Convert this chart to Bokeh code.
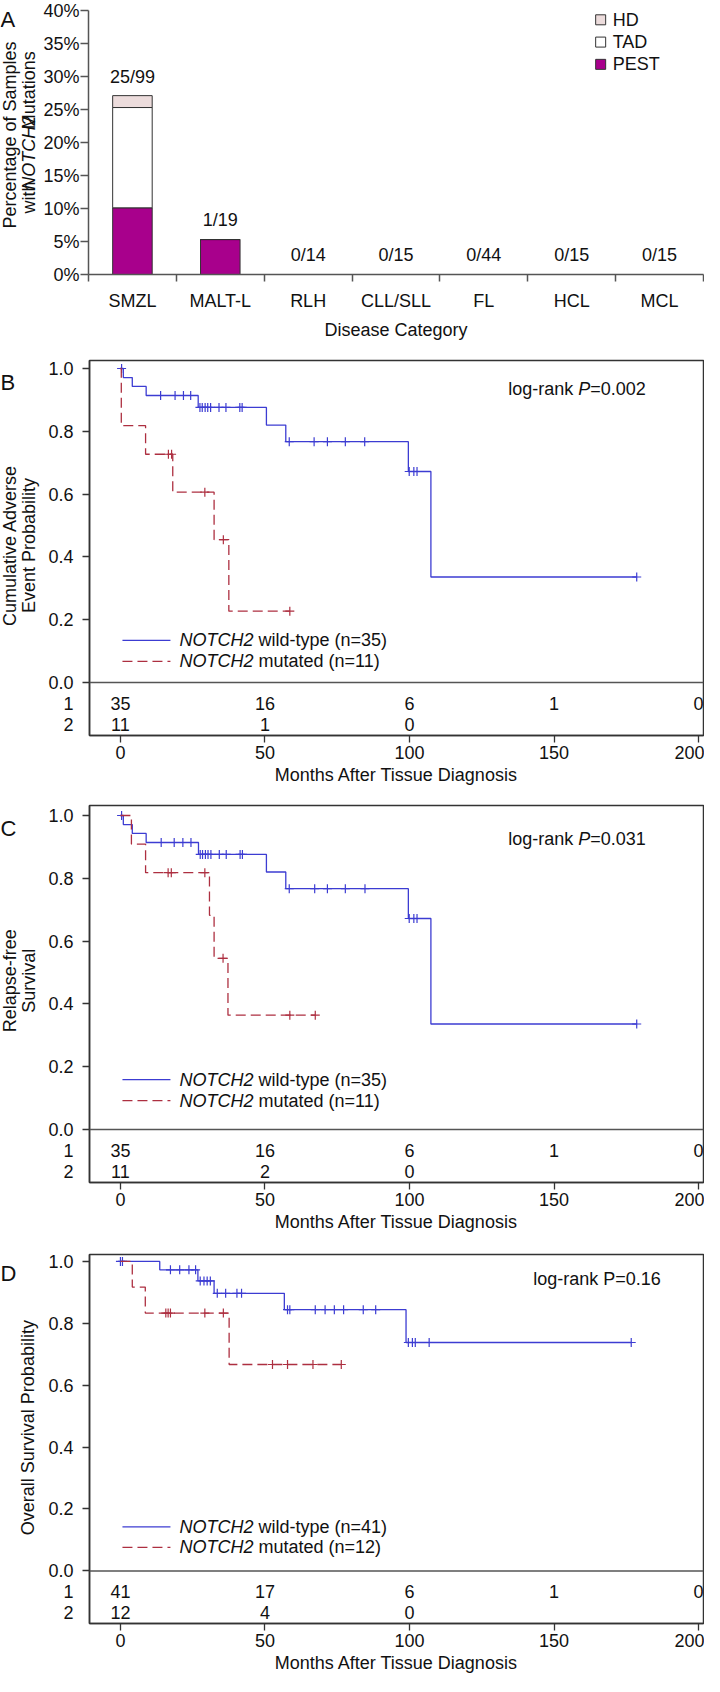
import math
from bokeh.plotting import figure
from bokeh.models import (Range1d, FixedTicker, PrintfTickFormatter, Label,
                          Span, ColumnDataSource)
from bokeh.layouts import column, row
from bokeh.embed import file_html
from bokeh.resources import INLINE
from bokeh.core.properties import value

FONT = "Liberation Sans"
FS = "18px"
W = 704

# ---------------- Panel A data ----------------
categories = ["SMZL", "MALT-L", "RLH", "CLL/SLL", "FL", "HCL", "MCL"]
pest_pct = [10.1, 5.3, 0, 0, 0, 0, 0]
tad_pct = [15.2, 0, 0, 0, 0, 0, 0]
hd_pct = [1.8, 0, 0, 0, 0, 0, 0]
mutated_counts = ["25/99", "1/19", "0/14", "0/15", "0/44", "0/15", "0/15"]
pct_ticks = [0, 5, 10, 15, 20, 25, 30, 35, 40]
domain_names = ["HD", "TAD", "PEST"]
domain_colors = ["#ecdcdc", "#ffffff", "#a8008c"]

# ---------------- Kaplan-Meier data ----------------
month_ticks = [0, 50, 100, 150, 200]
risk_months = [0, 50, 100, 150, 200]

# B: cumulative adverse event probability
b_wt_times = [0, 1.0, 4.1, 8.9, 26.9, 50.5, 57.2, 99.6, 107.4]
b_wt_surv = [1.0, 0.971, 0.943, 0.914, 0.876, 0.820, 0.767, 0.672, 0.336]
b_wt_last = 178.6
b_wt_censor = [0.4, 13.9, 18.9, 21.8, 24.3, 27.5, 28.3, 29.3, 30.2, 31.2, 34.1,
               36.5, 41.3, 42.1, 58.4, 67.0, 71.6, 77.8, 84.5, 99.9, 101.5,
               102.6, 178.6]
b_mut_times = [0, 0.3, 8.7, 18.1, 32.4, 37.5]
b_mut_surv = [1.0, 0.818, 0.727, 0.606, 0.455, 0.227]
b_mut_last = 58.6
b_mut_censor = [16.6, 17.7, 29.2, 35.6, 58.6]
b_risk_wt = [35, 16, 6, 1, 0]
b_risk_mut = [11, 1, 0]

# C: relapse-free survival
c_wt_times = [0, 1.0, 4.1, 8.9, 27.0, 50.5, 57.2, 99.6, 107.4]
c_wt_surv = [1.0, 0.971, 0.943, 0.914, 0.876, 0.820, 0.767, 0.672, 0.336]
c_wt_last = 178.6
c_wt_censor = [0.4, 14.1, 18.6, 21.6, 24.4, 27.6, 28.4, 29.4, 30.3, 31.3, 34.2,
               36.6, 41.4, 42.2, 58.4, 67.2, 71.6, 77.8, 84.6, 99.9, 101.5,
               102.6, 178.6]
c_mut_times = [0, 3.8, 8.7, 30.8, 32.4, 37.2]
c_mut_surv = [1.0, 0.909, 0.818, 0.682, 0.545, 0.364]
c_mut_last = 67.4
c_mut_censor = [16.5, 17.6, 29.2, 35.5, 58.6, 67.4]
c_risk_wt = [35, 16, 6, 1, 0]
c_risk_mut = [11, 2, 0]

# D: overall survival
d_wt_times = [0, 13.6, 26.8, 32.4, 56.7, 98.8]
d_wt_surv = [1.0, 0.973, 0.937, 0.897, 0.844, 0.738]
d_wt_last = 176.7
d_wt_censor = [0, 0.7, 17.3, 20.5, 23.7, 26.0, 27.6, 28.9, 30.0, 31.1, 33.5,
               36.4, 40.3, 41.9, 57.8, 58.6, 67.4, 70.8, 74.0, 77.2, 84.0,
               88.3, 99.6, 101.0, 102.0, 106.8, 176.7]
d_mut_times = [0, 4.1, 8.6, 37.6]
d_mut_surv = [1.0, 0.917, 0.833, 0.667]
d_mut_last = 76.4
d_mut_censor = [15.7, 16.5, 17.3, 29.2, 35.6, 52.6, 57.8, 66.6, 76.4]
d_risk_wt = [41, 17, 6, 1, 0]
d_risk_mut = [12, 4, 0]

BLUE = "#3c3cd2"
RED = "#ad2f40"
AX = "#333333"
TXT = "#111111"


def lbl(p, **kw):
    base = dict(text_font=FONT, text_font_size=FS, text_color=TXT,
                text_baseline="middle")
    base.update(kw)
    p.add_layout(Label(**base))


def side_figure(sw, height, btop, bbot, ylo, yhi):
    """Narrow figure left of a panel that carries its rotated axis title."""
    ppu = (height - btop - bbot) / (yhi - ylo)
    s = figure(width=sw, height=height, x_range=Range1d(0, sw),
               y_range=Range1d(ylo - bbot / ppu, yhi + btop / ppu),
               min_border=0, x_axis_type=None, y_axis_type=None,
               output_backend="svg", toolbar_location=None)
    s.outline_line_color = None
    s.xgrid.visible = False
    s.ygrid.visible = False
    return s, ppu


# ======================= Panel A =======================
A_SW = 40
A_BL, A_BT, A_BB, A_H = 47, 10, 57, 342
AW = W - A_SW
a_ppu = (A_H - A_BT - A_BB) / 40.0          # px per percent
a_ppx = (AW - A_BL - 1) / len(categories)   # px per category

xpos = [i + 0.5 for i in range(len(categories))]
totals = [a + b + c for a, b, c in zip(pest_pct, tad_pct, hd_pct)]
srcA = ColumnDataSource(dict(x=xpos, pest=pest_pct, tad=tad_pct, hd=hd_pct))

pA = figure(width=AW, height=A_H, x_range=Range1d(0, len(categories)),
            y_range=Range1d(0, 40), min_border_left=A_BL, min_border_right=1,
            min_border_top=A_BT, min_border_bottom=A_BB,
            output_backend="svg", toolbar_location=None)
pA.outline_line_color = None
pA.xgrid.visible = False
pA.ygrid.visible = False
bars = pA.vbar_stack(["pest", "tad", "hd"], x="x", width=0.45, source=srcA,
                     fill_color=[domain_colors[2], domain_colors[1],
                                 domain_colors[0]],
                     line_color="#333333", line_width=1)
pA.text(x=xpos, y=[t + 2.9 for t in totals], text=mutated_counts,
        text_align="center", text_baseline="middle",
        text_font=value(FONT), text_font_size=value(FS), text_color=TXT)

# legend (keys + names), placed near the top right of the frame
leg_top = 40 - 9.7 / a_ppu
leg_step = 23.2 / a_ppu
leg_y = [leg_top - i * leg_step for i in range(len(domain_names))]
pA.scatter(x=[(608 - 95) / a_ppx] * 3, y=leg_y, marker="square", size=10,
           fill_color=domain_colors, line_color="#333333", line_width=1)
pA.text(x=[(620 - 95) / a_ppx] * 3, y=leg_y, text=domain_names,
        text_align="left", text_baseline="middle", text_font=value(FONT),
        text_font_size=value(FS), text_color=TXT)

xa = pA.xaxis[0]
xa.ticker = FixedTicker(ticks=xpos, minor_ticks=list(range(len(categories) + 1)))
xa.major_label_overrides = {x: c for x, c in zip(xpos, categories)}
xa.major_tick_out = 0
xa.major_tick_in = 0
xa.minor_tick_out = 7
xa.minor_tick_in = 0
xa.minor_tick_line_color = "#555555"
xa.minor_tick_line_width = 1.5
xa.major_label_standoff = 9
xa.axis_label = "Disease Category"
xa.axis_label_standoff = 6
ya = pA.yaxis[0]
ya.ticker = FixedTicker(ticks=pct_ticks)
ya.formatter = PrintfTickFormatter(format="%d%%")
ya.major_tick_out = 8
ya.major_tick_in = 0
ya.major_label_standoff = 1
ya.minor_tick_line_color = None
for ax in (xa, ya):
    ax.axis_line_color = "#555555"
    ax.axis_line_width = 1.5
    ax.major_tick_line_width = 1.5
    ax.major_label_text_font = FONT
    ax.major_label_text_font_size = FS
    ax.major_label_text_color = TXT
    ax.axis_label_text_font = FONT
    ax.axis_label_text_font_size = FS
    ax.axis_label_text_font_style = "normal"
    ax.axis_label_text_color = TXT
xa.major_tick_line_color = None
ya.major_tick_line_color = "#555555"

sA, _ = side_figure(A_SW, A_H, A_BT, A_BB, 0, 40)
ycen = 18.0
lbl(sA, x=9, y=ycen, text="Percentage of Samples", angle=math.pi / 2,
    text_align="center")
start = ycen - 97 / a_ppu          # bottom end of the second line
lbl(sA, x=28, y=start + 16 / a_ppu, text="with", angle=math.pi / 2,
    text_align="center")
lbl(sA, x=28, y=start + 74 / a_ppu, text="NOTCH2", angle=math.pi / 2,
    text_align="center", text_font_style="italic")
lbl(sA, x=28, y=start + 155 / a_ppu, text="Mutations", angle=math.pi / 2,
    text_align="center")
lbl(sA, x=0, y=40 - 2 / a_ppu, text="A", text_font_size="22px",
    text_align="left")
panelA = row(sA, pA, spacing=0)

# ======================= KM panels =======================
XLO, XHI = -10.7, 201.7
KM_SW = 45
KM_BL = 43
KMW = W - KM_SW
ROW_Y = [-0.066, -0.134]


def step_at(times, surv, t):
    s = surv[0]
    for ti, si in zip(times, surv):
        if ti <= t:
            s = si
    return s


def km_panel(height, btop, bbot, ylo, yhi, wt, mut, risk_wt, risk_mut,
             leg_y, leg_texts, ylab_lines, ylab_y, logrank, lr_right, lr_y,
             letter):
    p = figure(width=KMW, height=height, x_range=Range1d(XLO, XHI),
               y_range=Range1d(ylo, yhi), min_border_left=KM_BL,
               min_border_right=1, min_border_top=btop, min_border_bottom=bbot,
               output_backend="svg", toolbar_location=None)
    p.xgrid.visible = False
    p.ygrid.visible = False
    p.outline_line_color = AX
    p.outline_line_width = 1.5

    p.add_layout(Span(location=0, dimension="width", line_color="#555555",
                      line_width=1.5))

    for (times, surv, last, cens), color, dash in ((wt, BLUE, "solid"),
                                                   (mut, RED, "10 5")):
        p.step(x=list(times) + [last], y=list(surv) + [surv[-1]], mode="after",
               line_color=color, line_width=1.3, line_dash=dash)
        p.scatter(x=cens, y=[step_at(times, surv, c) for c in cens],
                  marker="cross", size=9, line_color=color, line_width=1.2)

    # legend
    for yy, color, dash, (ital, rest) in zip(leg_y, (BLUE, RED),
                                              ("solid", "10 5"), leg_texts):
        p.segment(x0=[0.7], y0=[yy], x1=[17.3], y1=[yy], line_color=color,
                  line_width=1.3, line_dash=dash)
        lbl(p, x=20.4, y=yy, text=ital, text_font_style="italic",
            text_align="left")
        lbl(p, x=20.4, x_offset=79, y=yy, text=rest, text_align="left")

    # numbers at risk
    p.text(x=risk_months[:len(risk_wt)], y=[ROW_Y[0]] * len(risk_wt),
           text=[str(v) for v in risk_wt], text_align="center",
           text_baseline="middle", text_font=value(FONT),
           text_font_size=value(FS), text_color=TXT)
    p.text(x=risk_months[:len(risk_mut)], y=[ROW_Y[1]] * len(risk_mut),
           text=[str(v) for v in risk_mut], text_align="center",
           text_baseline="middle", text_font=value(FONT),
           text_font_size=value(FS), text_color=TXT)

    # axes
    prob_ticks = [0, 0.2, 0.4, 0.6, 0.8, 1.0]
    xa = p.xaxis[0]
    xa.ticker = FixedTicker(ticks=month_ticks)
    xa.axis_label = "Months After Tissue Diagnosis"
    xa.axis_label_standoff = 3
    ya = p.yaxis[0]
    ya.ticker = FixedTicker(ticks=ROW_Y + prob_ticks, minor_ticks=prob_ticks)
    ya.formatter = PrintfTickFormatter(format="%.1f")
    ya.major_label_overrides = {ROW_Y[0]: "1", ROW_Y[1]: "2"}
    for ax in (xa, ya):
        ax.axis_line_color = AX
        ax.axis_line_width = 1.5
        ax.major_tick_line_color = AX
        ax.major_tick_line_width = 1.3
        ax.major_tick_out = 7
        ax.major_tick_in = 0
        ax.minor_tick_line_color = None
        ax.major_label_text_font = FONT
        ax.major_label_text_font_size = FS
        ax.major_label_text_color = TXT
        ax.axis_label_text_font = FONT
        ax.axis_label_text_font_size = FS
        ax.axis_label_text_font_style = "normal"
        ax.axis_label_text_color = TXT
    xa.major_label_standoff = 3
    # y: labels from major ticks (no marks), marks from minor ticks
    ya.major_tick_out = 0
    ya.major_tick_line_color = None
    ya.minor_tick_line_color = AX
    ya.minor_tick_line_width = 1.3
    ya.minor_tick_out = 7
    ya.minor_tick_in = 0
    ya.major_label_standoff = 9

    # log-rank text (right aligned)
    if len(logrank) == 3:
        lbl(p, x=lr_right, y=lr_y, text=logrank[2], text_align="right")
        lbl(p, x=lr_right, x_offset=-55.5, y=lr_y, text=logrank[1],
            text_align="right", text_font_style="italic")
        lbl(p, x=lr_right, x_offset=-72.5, y=lr_y, text=logrank[0],
            text_align="right")
    else:
        lbl(p, x=lr_right, y=lr_y, text=logrank[0], text_align="right")

    s, ppu = side_figure(KM_SW, height, btop, bbot, ylo, yhi)
    if len(ylab_lines) == 2:
        lbl(s, x=9, y=ylab_y, text=ylab_lines[0], angle=math.pi / 2,
            text_align="center")
        lbl(s, x=28, y=ylab_y, text=ylab_lines[1], angle=math.pi / 2,
            text_align="center")
    else:
        lbl(s, x=27, y=ylab_y, text=ylab_lines[0], angle=math.pi / 2,
            text_align="center")
    lbl(s, x=0, y=1.0, text=letter, text_font_size="22px", text_align="left")
    return row(s, p, spacing=0)


pB = km_panel(446, 18, 53, -0.1688, 1.0255,
              (b_wt_times, b_wt_surv, b_wt_last, b_wt_censor),
              (b_mut_times, b_mut_surv, b_mut_last, b_mut_censor),
              b_risk_wt, b_risk_mut, (0.134, 0.067),
              (("NOTCH2", "wild-type (n=35)"), ("NOTCH2", "mutated (n=11)")),
              ("Cumulative Adverse", "Event Probability"), 0.382,
              ("log-rank", "P", "=0.002"), 181.7, 0.936, "B")

pC = km_panel(450, 17, 56, -0.1688, 1.0318,
              (c_wt_times, c_wt_surv, c_wt_last, c_wt_censor),
              (c_mut_times, c_mut_surv, c_mut_last, c_mut_censor),
              c_risk_wt, c_risk_mut, (0.159, 0.092),
              (("NOTCH2", "wild-type (n=35)"), ("NOTCH2", "mutated (n=11)")),
              ("Relapse-free", "Survival"), 0.42,
              ("log-rank", "P", "=0.031"), 181.7, 0.924, "C")

pD = km_panel(438, 16, 53, -0.170, 1.0224,
              (d_wt_times, d_wt_surv, d_wt_last, d_wt_censor),
              (d_mut_times, d_mut_surv, d_mut_last, d_mut_censor),
              d_risk_wt, d_risk_mut, (0.142, 0.076),
              (("NOTCH2", "wild-type (n=41)"), ("NOTCH2", "mutated (n=12)")),
              ("Overall Survival Probability",), 0.41,
              ("log-rank P=0.16",), 186.9, 0.942, "D")

layout = column(panelA, pB, pC, pD, spacing=0)
open("out.html", "w").write(file_html(layout, INLINE))
